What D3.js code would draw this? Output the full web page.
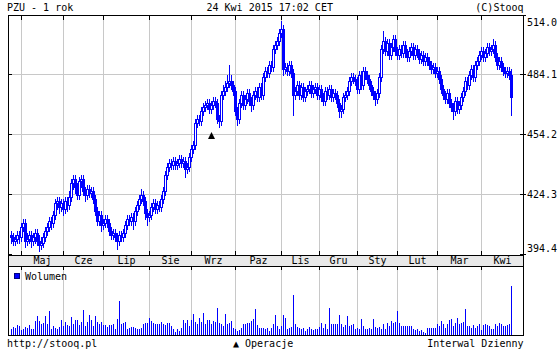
<!DOCTYPE html>
<html><head><meta charset="utf-8">
<script src="https://cdn.jsdelivr.net/npm/d3@7"></script>
<style>
body{margin:0;background:#fff}
svg{display:block}
text{font-family:"DejaVu Sans Mono",monospace;font-size:10px;fill:#000}
</style>
</head><body>
<svg id="c" width="560" height="350"></svg>
<script>
// ---- data (PZU daily, 1 year) ----
const opens=[404,403,401,402,404,403,408,410,401,402,
404,401,403,405,401,399,400,403,406,408,
411,410,414,420,421,418,420,417,421,419,
423,430,432,428,424,431,432,426,424,427,
425,426,422,416,411,414,409,410,412,410,
406,404,405,403,401,404,403,405,409,412,
411,413,411,416,419,422,424,421,415,413,
414,418,420,417,419,418,422,426,434,438,
440,439,441,439,440,442,440,441,437,438,
443,447,449,460,462,461,466,468,469,470,
467,469,471,470,462,461,474,476,478,480,
481,479,476,466,462,470,474,469,472,475,
471,469,474,476,473,478,474,483,486,485,
489,488,497,499,501,505,507,487,488,486,
489,485,474,476,479,474,478,473,476,477,
479,475,477,478,474,477,473,471,476,474,
477,473,475,474,470,466,467,473,474,476,
481,483,482,481,477,484,479,486,484,482,
479,476,474,472,475,483,497,501,496,500,
494,498,502,496,494,497,495,499,495,493,
496,498,494,497,495,492,494,491,493,491,
489,487,488,485,486,482,477,474,472,475,
470,468,466,471,467,469,473,476,481,479,
484,487,483,489,491,494,496,493,495,498,
496,497,499,493,489,491,488,486,485,486,
484];
const highs=[406,405,404,406,406,410,412,412,405,406,
406,405,407,407,404,403,405,408,410,413,
413,416,422,423,423,422,422,423,423,426,
432,434,434,430,433,434,434,428,429,429,
428,428,424,418,416,416,412,414,414,412,
408,407,407,405,406,406,407,411,414,414,
415,415,418,421,424,427,426,423,417,416,
420,422,422,421,421,424,428,436,440,442,
442,443,443,442,444,444,443,443,440,445,
449,451,462,464,464,468,470,471,472,472,
471,473,473,472,464,476,479,481,484,489,
484,481,478,468,472,476,476,474,477,477,
473,476,478,478,480,480,485,488,488,491,
491,499,501,503,507,511,509,490,490,491,
491,487,478,481,481,480,480,478,479,481,
481,479,480,480,479,479,475,478,478,479,
479,477,477,476,472,469,475,476,478,483,
485,485,484,483,486,486,488,488,486,484,
481,478,476,477,485,499,506,503,502,502,
500,504,504,498,499,499,501,501,497,498,
500,500,499,499,497,496,496,495,495,493,
491,490,490,488,488,484,479,476,477,477,
472,470,473,473,471,475,478,483,483,486,
489,489,491,493,496,498,498,497,500,500,
499,502,501,495,493,493,490,488,488,488,
487];
const lows=[400,399,399,400,400,401,406,398,399,400,
398,399,400,399,396,397,398,401,404,406,
407,408,412,417,415,416,414,415,416,417,
421,427,425,422,422,428,424,421,422,423,
423,420,414,409,409,406,407,408,408,404,
402,402,401,397,399,401,401,403,407,409,
409,407,409,414,417,420,419,412,409,411,
412,416,415,415,416,416,420,424,432,436,
437,437,437,437,438,438,438,433,435,436,
441,445,447,458,459,459,464,466,467,465,
465,467,468,460,458,459,472,474,476,478,
477,474,464,459,460,468,467,467,470,469,
466,467,472,471,471,472,472,481,483,483,
486,486,495,497,499,503,484,485,484,484,
483,464,472,474,472,472,471,471,474,475,
473,473,475,472,472,471,469,469,472,472,
471,471,472,468,463,463,465,471,472,474,
479,480,479,475,475,477,477,482,480,477,
474,472,469,470,473,481,495,494,494,492,
492,496,494,492,492,493,493,493,491,491,
494,492,492,493,490,490,489,489,489,487,
485,485,483,483,480,475,472,470,470,468,
466,462,464,465,465,467,471,474,477,477,
482,481,481,487,489,492,491,491,493,494,
494,495,491,487,487,486,484,483,483,482,
464];
const closes=[403,401,402,404,403,408,410,401,402,404,
401,403,405,401,399,400,403,406,408,411,
410,414,420,421,418,420,417,421,419,423,
430,432,428,424,431,432,426,424,427,425,
426,422,416,411,414,409,410,412,410,406,
404,405,403,401,404,403,405,409,412,411,
413,411,416,419,422,424,421,415,413,414,
418,420,417,419,418,422,426,434,438,440,
439,441,439,440,442,440,441,437,438,443,
447,449,460,462,461,466,468,469,470,467,
469,471,470,462,461,474,476,478,480,481,
479,476,466,462,470,474,469,472,475,471,
469,474,476,473,478,474,483,486,485,489,
488,497,499,501,505,507,487,488,486,489,
485,474,476,479,474,478,473,476,477,479,
475,477,478,474,477,473,471,476,474,477,
473,475,474,470,466,467,473,474,476,481,
483,482,481,477,484,479,486,484,482,479,
476,474,472,475,483,497,501,496,500,494,
498,502,496,494,497,495,499,495,493,496,
498,494,497,495,492,494,491,493,491,489,
487,488,485,486,482,477,474,472,475,470,
468,466,471,467,469,473,476,481,479,484,
487,483,489,491,494,496,493,495,498,496,
497,499,493,489,491,488,486,485,486,484,
473];
const volumes=[114,160,146,194,174,100,126,154,146,200,
120,126,280,380,280,220,246,380,226,480,
120,180,146,126,154,294,180,260,206,186,
360,220,294,300,194,254,500,180,266,400,
300,186,386,266,226,254,200,194,166,194,
206,220,114,314,680,214,240,260,114,134,
160,154,146,126,114,146,214,234,246,340,
274,234,214,214,214,266,226,194,246,246,
180,114,66,114,86,146,294,240,306,180,
294,426,260,214,334,266,434,226,294,294,
226,280,266,540,246,214,180,426,214,246,
274,146,114,80,94,134,214,214,240,240,
280,314,514,194,146,134,146,114,146,74,
146,214,400,180,114,180,400,340,114,146,
166,794,226,166,146,114,146,80,126,160,
114,94,114,114,160,240,146,214,114,540,
226,226,214,214,400,214,160,200,380,180,
194,214,114,146,114,320,180,114,114,146,
114,320,160,146,160,114,214,114,240,180,
274,246,260,480,246,174,174,174,174,174,
174,114,94,114,80,94,66,46,134,134,
134,134,146,214,180,280,214,146,214,294,
314,186,240,346,214,240,260,520,174,186,
146,194,146,180,214,106,194,214,200,174,
114,114,226,180,240,226,174,174,206,214,
980];
const months=["Maj","Cze","Lip","Sie","Wrz","Paz","Lis","Gru","Sty","Lut","Mar","Kwi"];
const monthStart=[5,26,46,69,90,112,135,154,173,193,213,235];
const yTicks=[394.4,424.3,454.2,484.1,514.0];
const opIndex=[100];
const opPrice=[452.0];

// ---- layout ----
const svg=d3.select("#c");
const L=8,R=523,T=15,PB=255,SB=266,VB=335;
const BLUE="#0000ff",GRID="#c8c8c8";
const N=closes.length;
const x=d3.scaleLinear().domain([0,N-1]).range([11,511]);
const y=d3.scaleLinear().domain([394.4,514.0]).range([254.5,14.5]);
const vy=d3.scaleLinear().domain([0,1380]).range([VB,VB-69]);
const col=i=>Math.round(x(i));

// strip
svg.append("rect").attr("x",L).attr("y",PB).attr("width",R-L).attr("height",SB-PB).attr("fill","#e9e9e9");

const g=svg.append("g").attr("shape-rendering","crispEdges");
monthStart.forEach(m=>{
  const cx=col(m)+0.5;
  g.append("line").attr("x1",cx).attr("x2",cx).attr("y1",T).attr("y2",PB).attr("stroke",GRID);
  g.append("line").attr("x1",cx).attr("x2",cx).attr("y1",SB).attr("y2",VB).attr("stroke",GRID);
});
yTicks.slice(1,-1).forEach(v=>{
  const yy=Math.floor(y(v))+0.5;
  g.append("line").attr("x1",L).attr("x2",R).attr("y1",yy).attr("y2",yy).attr("stroke",GRID);
});

// candles
const cg=svg.append("g").attr("shape-rendering","crispEdges");
for(let i=0;i<N;i++){
  const c=col(i);
  const yh=Math.round(y(highs[i])),yl=Math.round(y(lows[i]));
  cg.append("line").attr("x1",c+0.5).attr("x2",c+0.5).attr("y1",yh).attr("y2",yl+1).attr("stroke",BLUE);
  const yo=Math.round(y(opens[i])),yc=Math.round(y(closes[i]));
  const top=Math.min(yo,yc),bot=Math.max(yo,yc);
  if(closes[i]>=opens[i]){
    if(bot-top<1){
      cg.append("rect").attr("x",c-1).attr("y",top).attr("width",3).attr("height",1).attr("fill",BLUE);
    } else {
      cg.append("rect").attr("x",c-0.5).attr("y",top+0.5).attr("width",2).attr("height",bot-top)
        .attr("fill","#fff").attr("stroke",BLUE);
    }
  } else {
    cg.append("rect").attr("x",c-1).attr("y",top).attr("width",3).attr("height",Math.max(1,bot-top+1)).attr("fill",BLUE);
  }
}

// volume bars
const vg=svg.append("g").attr("shape-rendering","crispEdges");
volumes.forEach((v,i)=>{
  const top=Math.round(vy(v));
  vg.append("rect").attr("x",col(i)).attr("y",top).attr("width",1).attr("height",VB-top).attr("fill",BLUE);
});

// operation markers
opIndex.forEach((k,j)=>{
  const c=col(k)+0.5, yb=Math.round(y(opPrice[j]));
  svg.append("path").attr("d",`M${c-3.5},${yb}L${c+3.5},${yb}L${c},${yb-7}Z`).attr("fill","#000");
});

// frame
const fg=svg.append("g").attr("shape-rendering","crispEdges").attr("stroke","#000").attr("fill","none");
fg.append("rect").attr("x",L+0.5).attr("y",T+0.5).attr("width",R-L).attr("height",VB-T);
[PB,SB].forEach(yy=>fg.append("line").attr("x1",L).attr("x2",R+1).attr("y1",yy+0.5).attr("y2",yy+0.5));
monthStart.forEach(m=>{
  const cx=col(m)+0.5;
  fg.append("line").attr("x1",cx).attr("x2",cx).attr("y1",T).attr("y2",T+5);
  fg.append("line").attr("x1",cx).attr("x2",cx).attr("y1",PB-4).attr("y2",PB);
  fg.append("line").attr("x1",cx).attr("x2",cx).attr("y1",SB).attr("y2",SB+4);
});
yTicks.forEach(v=>{
  const yy=Math.min(PB-1,Math.max(T,Math.floor(y(v))))+0.5;
  fg.append("line").attr("x1",L).attr("x2",L+4).attr("y1",yy).attr("y2",yy);
  fg.append("line").attr("x1",R-3).attr("x2",R+3).attr("y1",yy).attr("y2",yy);
});

// y labels
yTicks.forEach((v,k)=>{
  let yy=Math.floor(y(v))+4;
  if(k===yTicks.length-1) yy=26;
  if(k===0) yy=251.5;
  svg.append("text").attr("x",527).attr("y",yy).text(v.toFixed(1));
});

// month labels
months.forEach((m,k)=>{
  const a=col(monthStart[k]);
  const b=k<months.length-1?col(monthStart[k+1]):R;
  svg.append("text").attr("x",(a+b)/2+0.5).attr("y",263.5).attr("text-anchor","middle").text(m);
});

// header/footer
svg.append("text").attr("x",7).attr("y",11).text("PZU - 1 rok");
svg.append("text").attr("x",206.5).attr("y",11).text("24 Kwi 2015 17:02 CET");
svg.append("text").attr("x",523.5).attr("y",11).attr("text-anchor","end").text("(C)Stooq");
svg.append("text").attr("x",7).attr("y",346.5).text("http://stooq.pl");
svg.append("text").attr("x",233).attr("y",346.5).text("\u25B2 Operacje");
svg.append("text").attr("x",523.5).attr("y",346.5).attr("text-anchor","end").text("Interwal Dzienny");

// legend
svg.append("rect").attr("x",14.5).attr("y",273.5).attr("width",5).attr("height",5).attr("fill",BLUE).attr("stroke","#000080").attr("shape-rendering","crispEdges");
svg.append("text").attr("x",25).attr("y",279.5).text("Wolumen");
</script>
</body></html>
